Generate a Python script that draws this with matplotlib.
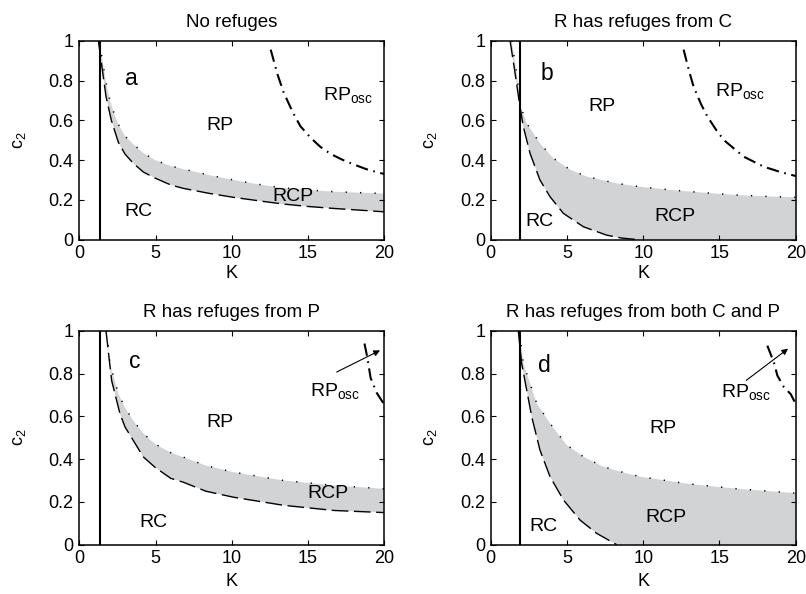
import matplotlib
matplotlib.use("Agg")
import matplotlib.pyplot as plt
import numpy as np

plt.rcParams['font.family'] = ['Liberation Sans', 'DejaVu Sans']
plt.rcParams['mathtext.fontset'] = 'custom'
plt.rcParams['mathtext.rm'] = 'Liberation Sans'
plt.rcParams['mathtext.it'] = 'Liberation Sans:italic'
plt.rcParams['lines.scale_dashes'] = False

# ---------------- data ----------------
titles = ["No refuges", "R has refuges from C", "R has refuges from P",
          "R has refuges from both C and P"]
letters = ["a", "b", "c", "d"]
x_ticks = [0, 5, 10, 15, 20]
y_ticks = [0, 0.2, 0.4, 0.6, 0.8, 1]
y_tick_labels = ["0", "0.2", "0.4", "0.6", "0.8", "1"]

# vertical solid boundary (K value)
vline_K = [1.36, 1.92, 1.36, 1.92]

# panel a
a_low_K = [1.25, 1.5, 1.75, 2.1, 2.56, 3.0, 3.54, 4.2, 4.96, 6.0, 6.82, 8.5, 10.1, 12.0, 13.4, 15.0, 16.7, 18.5, 20.0]
a_low_c = [1.0, 0.86, 0.72, 0.6, 0.49, 0.43, 0.384, 0.34, 0.31, 0.275, 0.258, 0.233, 0.213, 0.193, 0.179, 0.167, 0.157, 0.148, 0.14]
a_up_K = [1.3, 1.5, 1.75, 2.01, 2.3, 2.56, 3.0, 3.54, 4.2, 4.96, 6.0, 6.82, 8.5, 10.1, 12.0, 13.4, 15.0, 16.7, 18.5, 20.0]
a_up_c = [1.0, 0.91, 0.79, 0.70, 0.63, 0.58, 0.52, 0.48, 0.435, 0.40, 0.37, 0.355, 0.325, 0.30, 0.275, 0.26, 0.25, 0.241, 0.236, 0.232]
a_osc_K = [12.55, 13.0, 13.4, 14.0, 14.5, 15.2, 15.8, 16.5, 17.3, 18.0, 18.8, 19.4, 20.0]
a_osc_c = [0.955, 0.83, 0.74, 0.64, 0.57, 0.51, 0.467, 0.43, 0.40, 0.378, 0.355, 0.342, 0.33]

# panel b
b_low_K = [1.27, 1.6, 1.92, 2.14, 2.58, 3.23, 3.89, 4.77, 6.08, 7.6, 8.6, 9.7]
b_low_c = [1.0, 0.836, 0.668, 0.568, 0.434, 0.30, 0.216, 0.132, 0.065, 0.023, 0.008, 0.0]
b_up_K = [1.38, 1.7, 1.97, 2.36, 3.23, 4.11, 5.2, 6.3, 8.26, 9.8, 11.8, 14.0, 16.2, 18.0, 20.0]
b_up_c = [1.0, 0.836, 0.668, 0.585, 0.484, 0.409, 0.352, 0.317, 0.283, 0.266, 0.25, 0.236, 0.224, 0.218, 0.213]
b_osc_K = [12.65, 13.0, 13.3, 13.8, 14.2, 14.8, 15.3, 16.0, 16.6, 17.3, 17.9, 19.0, 20.0]
b_osc_c = [0.955, 0.85, 0.77, 0.68, 0.62, 0.55, 0.50, 0.455, 0.417, 0.39, 0.367, 0.34, 0.32]

# panel c
c_low_K = [1.75, 2.12, 2.67, 3.0, 3.54, 4.2, 4.96, 6.0, 6.82, 8.3, 10.1, 13.4, 16.7, 20.0]
c_low_c = [1.0, 0.767, 0.611, 0.55, 0.487, 0.41, 0.362, 0.31, 0.292, 0.25, 0.222, 0.184, 0.16, 0.15]
c_up_K = [1.8, 2.01, 2.56, 3.0, 3.54, 4.2, 4.96, 6.0, 6.82, 8.3, 10.1, 13.4, 16.7, 20.0]
c_up_c = [1.0, 0.845, 0.706, 0.64, 0.58, 0.52, 0.471, 0.43, 0.409, 0.37, 0.339, 0.30, 0.277, 0.261]
c_osc_K = [18.7, 18.9, 19.1, 19.5, 19.95]
c_osc_c = [0.94, 0.87, 0.78, 0.71, 0.66]

# panel d
d_low_K = [1.81, 2.03, 2.36, 2.69, 3.23, 3.89, 4.77, 5.86, 6.95, 8.04, 8.26]
d_low_c = [1.0, 0.847, 0.723, 0.598, 0.442, 0.318, 0.209, 0.115, 0.053, 0.009, 0.0]
d_up_K = [1.88, 2.14, 3.02, 3.89, 4.98, 6.08, 7.39, 8.92, 9.8, 12.87, 16.2, 20.0]
d_up_c = [1.0, 0.847, 0.66, 0.567, 0.466, 0.411, 0.364, 0.333, 0.318, 0.285, 0.261, 0.241]
d_osc_K = [18.14, 18.57, 18.8, 19.23, 19.67, 20.0]
d_osc_c = [0.93, 0.852, 0.79, 0.736, 0.704, 0.658]

low_K = [a_low_K, b_low_K, c_low_K, d_low_K]
low_c = [a_low_c, b_low_c, c_low_c, d_low_c]
up_K = [a_up_K, b_up_K, c_up_K, d_up_K]
up_c = [a_up_c, b_up_c, c_up_c, d_up_c]
osc_K = [a_osc_K, b_osc_K, c_osc_K, d_osc_K]
osc_c = [a_osc_c, b_osc_c, c_osc_c, d_osc_c]

# region labels (K, c2)
letter_pos = [(3.44, 0.81), (3.71, 0.836), (3.65, 0.854), (3.54, 0.838)]
rp_pos = [(9.23, 0.576), (7.3, 0.668), (9.23, 0.573), (11.3, 0.542)]
rcp_pos = [(14.03, 0.216), (12.07, 0.116), (16.33, 0.238), (11.52, 0.129)]
rc_pos = [(3.87, 0.141), (3.21, 0.09), (4.85, 0.106), (3.43, 0.083)]
osc_pos = [(16.0, 0.70), (14.69, 0.722), (15.13, 0.693), (15.12, 0.69)]
# arrows (tail, head) for panels c and d
arrows = [None, None, ((16.88, 0.807), (19.72, 0.908)), ((16.76, 0.768), (19.5, 0.916))]

# ---------------- layout ----------------
fig = plt.figure(figsize=(8.06, 5.94), dpi=100)
W, H = 806, 594
boxes = [(79.3, 40.7, 384.3, 239.7), (490.7, 40.7, 795.7, 239.7),
         (79.3, 330.7, 384.3, 544.7), (490.7, 330.7, 795.7, 544.7)]

gray = '#d2d3d5'
for i in range(4):
    x0, y0, x1, y1 = boxes[i]
    ax = fig.add_axes([x0 / W, 1 - y1 / H, (x1 - x0) / W, (y1 - y0) / H])
    ax.set_xlim(0, 20)
    ax.set_ylim(0, 1)

    # shaded RCP region
    vx = list(up_K[i])
    vy = list(up_c[i])
    if low_K[i][-1] < 20:
        vx.append(20)
        vy.append(0)
    vx += low_K[i][::-1]
    vy += low_c[i][::-1]
    ax.fill(vx, vy, color=gray, lw=0, zorder=1)

    ax.plot(low_K[i], low_c[i], color='k', lw=1.0, dashes=(12, 4), zorder=2)
    ax.plot(up_K[i], up_c[i], color='k', lw=1.1, dashes=(0.9, 9.5), zorder=2)
    ax.plot(osc_K[i], osc_c[i], color='k', lw=1.5, dashes=(9, 4, 1.2, 4), zorder=2)
    ax.axvline(vline_K[i], color='k', lw=1.5, zorder=3)

    ax.text(*letter_pos[i], letters[i], fontsize=16.5, ha='center', va='center')
    ax.text(*rp_pos[i], "RP", fontsize=14, ha='center', va='center')
    ax.text(*rcp_pos[i], "RCP", fontsize=14, ha='center', va='center')
    ax.text(*rc_pos[i], "RC", fontsize=14, ha='center', va='center')
    ax.text(*osc_pos[i], r"RP$_{\mathrm{osc}}$", fontsize=14, ha='left', va='baseline')
    if arrows[i] is not None:
        tail, head = arrows[i]
        ax.annotate('', xy=head, xytext=tail,
                    arrowprops=dict(arrowstyle='-|>', lw=0.8, color='k',
                                    mutation_scale=9, shrinkA=0, shrinkB=0))

    ax.set_xticks(x_ticks)
    ax.set_yticks(y_ticks)
    ax.set_yticklabels(y_tick_labels)
    ax.tick_params(direction='in', top=True, right=True, length=3.5,
                   width=0.8, labelsize=13, pad=4)
    for s in ax.spines.values():
        s.set_linewidth(1.1)
    ax.set_xlabel("K", fontsize=13, labelpad=2 if i < 2 else 4)
    ax.set_ylabel(r"c$_2$", fontsize=13, labelpad=15)
    ax.set_title(titles[i], fontsize=13.5, pad=10)

fig.savefig("out.png", dpi=100)
